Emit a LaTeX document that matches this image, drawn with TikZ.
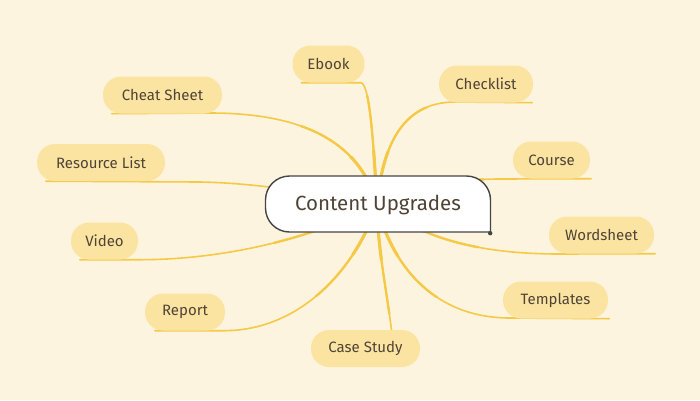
\documentclass[tikz,border=0pt]{standalone}
\usepackage{fontspec}
\setmainfont{Fira Sans}
\usetikzlibrary{backgrounds}
\definecolor{bg}{HTML}{FCF4DE}
\definecolor{pill}{HTML}{FBE4A2}
\definecolor{branch}{HTML}{F5C945}
\definecolor{ink}{HTML}{4F4336}
\definecolor{edgec}{HTML}{454545}
\tikzset{
  leaf/.style={fill=pill, rounded corners=18pt, minimum height=37pt, inner sep=0pt,
    text=ink, font=\fontsize{15}{17}\selectfont},
  hubnode/.style={minimum width=227pt, minimum height=56pt, inner sep=0pt,
    text=ink, font=\fontsize{20.5}{23}\selectfont},
  branchline/.style={draw=branch, line cap=round, line join=round}
}
\newcommand\mybranches[1]{%
  \draw[branchline,#1] ([xshift=9pt]eb.south west) -- ([xshift=-4pt]eb.south east) .. controls +(8,0) and (373,130) .. (hub);
  \draw[branchline,#1] ([xshift=9pt]cs.south west) -- (210,113) .. controls (300,113) and (360,140) .. (hub);
  \draw[branchline,#1] ([xshift=-1pt]ck.south east) -- (455,102) .. controls (400,102) and (382,150) .. (hub);
  \draw[branchline,#1] ([xshift=9pt]rl.south west) -- (200,182) .. controls (260,183) and (330,195) .. (hub);
  \draw[branchline,#1] ([xshift=1pt]co.south east) -- (500,179) .. controls (450,179) and (400,190) .. (hub);
  \draw[branchline,#1] ([xshift=9pt]vi.south west) -- (vi.south east) .. controls (230,260) and (320,235) .. (hub);
  \draw[branchline,#1] ([xshift=1pt]ws.south east) -- (560,254) .. controls (470,254) and (420,235) .. (hub);
  \draw[branchline,#1] ([xshift=10pt]rp.south west) -- (rp.south east) .. controls (300,330) and (355,270) .. (hub);
  \draw[branchline,#1] ([xshift=1pt]tp.south east) -- (510,318) .. controls (430,318) and (390,260) .. (hub);
  \draw[branchline,#1] ([xshift=26pt]cy.north) .. controls (385,280) and (378,250) .. (hub);
}
\begin{document}
\begin{tikzpicture}[x=1pt,y=-1pt]
\useasboundingbox (0,0) rectangle (700,400);
\begin{scope}[on background layer]
  \fill[bg] (0,0) rectangle (700,400);
\end{scope}
\coordinate (hub) at (377,205);
\node[leaf, minimum width=72pt]  (eb) at (328.5,64)  {Ebook};
\node[leaf, minimum width=119pt] (cs) at (162.5,95)  {Cheat Sheet};
\node[leaf, minimum width=94pt]  (ck) at (486,84)    {Checklist};
\node[leaf, minimum width=128pt] (rl) at (101,162.5) {Resource List};
\node[leaf, minimum width=77pt]  (co) at (551.5,160) {Course};
\node[leaf, minimum width=67pt]  (vi) at (104.5,241) {Video};
\node[leaf, minimum width=105pt] (ws) at (601.5,235) {Wordsheet};
\node[leaf, minimum width=80pt]  (rp) at (185,312)   {Report};
\node[leaf, minimum width=105pt] (tp) at (555.5,300) {Templates};
\node[leaf, minimum width=109pt] (cy) at (365.5,348.5) {Case Study};
\begin{scope}[on background layer]
  \mybranches{line width=1.6pt}
  \begin{scope}
    \clip (hub) circle (110pt);
    \mybranches{line width=2.3pt}
  \end{scope}
  \begin{scope}
    \clip (hub) circle (55pt);
    \mybranches{line width=3.1pt}
  \end{scope}
\end{scope}
\filldraw[fill=white, draw=edgec, line width=1.4pt, rounded corners=24pt]
  (490.5,232) -- (490.5,176) -- (265.5,176) -- (265.5,232) -- (490.5,232);
\node[hubnode] (c) at (378,205) {Content Upgrades};
\fill[edgec] (c.south east) ++(-1.5,0) circle (2.2pt);
\end{tikzpicture}
\end{document}
